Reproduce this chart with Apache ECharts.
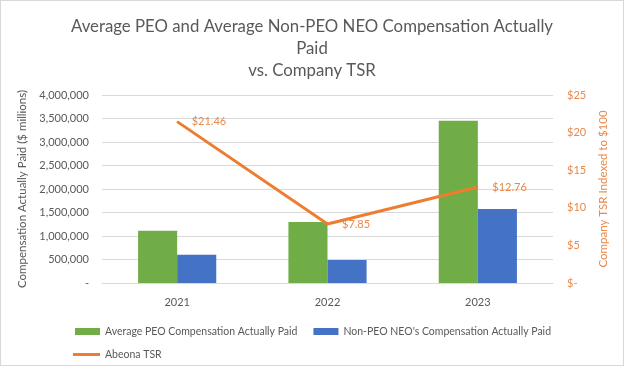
<!DOCTYPE html>
<html><head><meta charset="utf-8">
<script src="https://cdn.jsdelivr.net/npm/echarts@6/dist/echarts.min.js"></script>
<style>html,body{margin:0;padding:0;background:#fff}#c{width:622px;height:364px;border:1px solid #d9d9d9}</style>
</head><body><div id="c"></div>
<script>
const categories = ['2021', '2022', '2023'];
const peoComp = [1110000, 1300000, 3450000];
const neoComp = [600000, 490000, 1575000];
const tsr = [21.46, 7.85, 12.76];
const seriesNames = ['Average PEO Compensation Actually Paid', "Non-PEO NEO's Compensation Actually Paid", 'Abeona TSR'];
const titleText = 'Average PEO and Average Non-PEO NEO Compensation Actually\nPaid\nvs. Company TSR';

const font = 'Lato';
const chart = echarts.init(document.getElementById('c'));
chart.setOption({
  animation: false,
  textStyle: {fontFamily: font},
  title: {text: titleText, left: 'center', top: 10,
    textStyle: {fontFamily: font, fontSize: 16.8, fontWeight: 'normal', color: '#595959', lineHeight: 22}},
  legend: [
    {data: [seriesNames[0], seriesNames[1]], left: 69, top: 320, itemWidth: 25, itemHeight: 7, itemGap: 16,
     icon: 'rect', itemTextGap: 3,
     textStyle: {fontSize: 10.5, color: '#595959', fontFamily: font}},
    {data: [seriesNames[2]], left: 67, top: 343, itemWidth: 27, itemHeight: 3, icon: 'rect', itemTextGap: 2,
     textStyle: {fontSize: 10.5, color: '#595959', fontFamily: font}}
  ],
  grid: {left: 101, right: 70, top: 94, bottom: 82, outerBoundsMode: 'none', containLabel: false},
  xAxis: {type: 'category', data: categories,
    axisLine: {lineStyle: {color: '#d9d9d9'}}, axisTick: {show: false},
    axisLabel: {color: '#595959', fontSize: 11, margin: 14}},
  yAxis: [
    {type: 'value', min: 0, max: 4000000, interval: 500000,
     name: 'Compensation Actually Paid ($ millions)', nameLocation: 'middle', nameGap: 71, nameRotate: 90,
     nameTextStyle: {color: '#595959', fontSize: 11.5},
     axisLabel: {color: '#595959', fontSize: 11, margin: 13,
       formatter: v => v === 0 ? '-' : v.toLocaleString('en-US')},
     splitLine: {lineStyle: {color: '#d9d9d9'}}, axisLine: {show: false}, axisTick: {show: false}},
    {type: 'value', min: 0, max: 25, interval: 5,
     name: 'Company TSR Indexed to $100', nameLocation: 'middle', nameGap: 42, nameRotate: 90,
     nameTextStyle: {color: '#E8884A', fontSize: 11.5},
     axisLabel: {color: '#E8884A', fontSize: 11, margin: 14,
       formatter: v => v === 0 ? '$-' : '$' + v},
     splitLine: {show: false}, axisLine: {show: false}, axisTick: {show: false}}
  ],
  series: [
    {name: seriesNames[0], type: 'bar', data: peoComp, itemStyle: {color: '#70AD47'}, barGap: '0%', barCategoryGap: '48%'},
    {name: seriesNames[1], type: 'bar', data: neoComp, itemStyle: {color: '#4472C4'}},
    {name: seriesNames[2], type: 'line', yAxisIndex: 1, data: tsr, symbol: 'circle', symbolSize: 1, showSymbol: true,
     lineStyle: {color: '#ED7D31', width: 3}, itemStyle: {color: '#ED7D31'},
     label: {show: true, position: 'right', distance: 14, color: '#E8884A', fontSize: 11,
       formatter: p => '$' + p.value.toFixed(2)}}
  ]
});
</script></body></html>
